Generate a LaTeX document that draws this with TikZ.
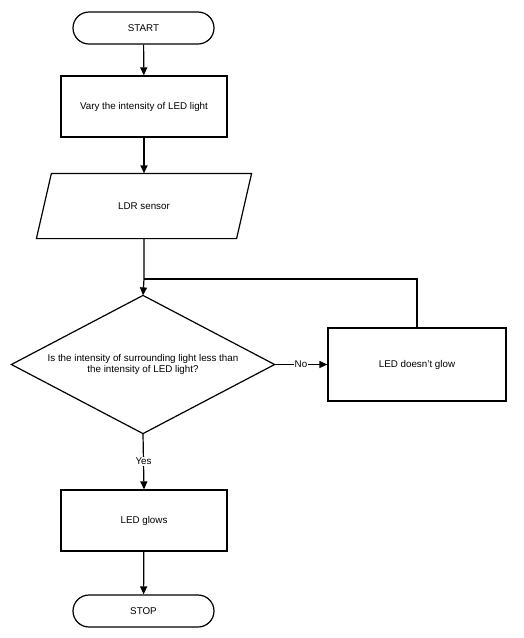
\documentclass[tikz,border=0pt]{standalone}
\usepackage{fontspec}
\setmainfont{Liberation Sans}
\usetikzlibrary{arrows.meta}
\begin{document}
\begin{tikzpicture}[x=1pt,y=-1pt, line width=1.2pt,
  every node/.style={font=\fontsize{9.8}{11.5}\selectfont, inner sep=0pt},
  term/.style={draw, rectangle, rounded corners=16pt, minimum width=141pt, minimum height=32pt},
  proc/.style={draw, rectangle, minimum width=166pt, minimum height=61pt},
  iobox/.style={rectangle, minimum width=199pt, minimum height=64pt},
  decision/.style={rectangle, minimum width=262pt, minimum height=137pt, align=center},
  conn/.style={-{Triangle[length=8pt,width=7pt]}},
  lbl/.style={fill=white, inner sep=1pt}
]
\useasboundingbox (0,0) rectangle (523,638);
\node[term] (start) at (143.5,28) {START};
\node[proc] (vary) at (144,106.5) {Vary the intensity of LED light};
\node[iobox] (ldr) at (144,206) {LDR sensor};
\draw ([xshift=-7.5pt]ldr.south west) -- ([xshift=7.5pt]ldr.north west) -- ([xshift=7.5pt]ldr.north east) -- ([xshift=-7.5pt]ldr.south east) -- cycle;
\coordinate (j) at (144,279);
\node[decision] (dec) at (143,364.5) {Is the intensity of surrounding light less than\\the intensity of LED light?};
\draw (dec.north) -- (dec.east) -- (dec.south) -- (dec.west) -- cycle;
\node[proc, minimum width=178pt, minimum height=73pt] (noglow) at (417,364.5) {LED doesn't glow};
\node[proc] (glow) at (144,520.5) {LED glows};
\node[term] (stop) at (143.5,611) {STOP};

\draw[conn] (start) -- (vary);
\draw[conn] (vary) -- (ldr);
\draw[conn] (ldr.south) -- (j) -- (dec.north);
\draw[conn] (dec.east) -- node[lbl] {No} (noglow.west);
\draw (noglow.north) |- (j);
\draw[conn] (dec.south) -- node[lbl] {Yes} (glow.north);
\draw[conn] (glow) -- (stop);
\end{tikzpicture}
\end{document}
